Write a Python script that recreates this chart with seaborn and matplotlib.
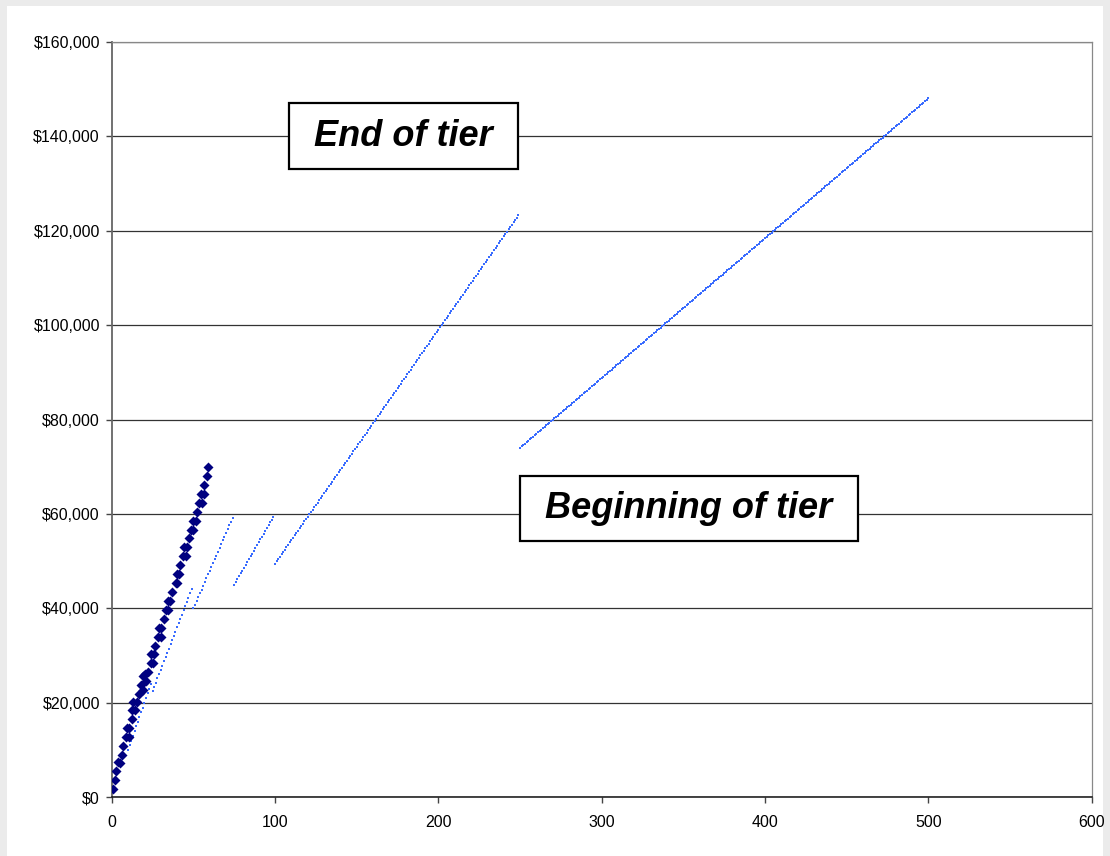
import numpy as np
import pandas as pd
import matplotlib
matplotlib.use("Agg")
import matplotlib.pyplot as plt
from matplotlib.patches import Rectangle
from matplotlib.ticker import FuncFormatter
import seaborn as sns

# Observed cost points (units, total cost)
observed_units = [0.6, 1.8, 2.4, 4.1, 4.9, 6.1, 6.7, 8.8, 10.4, 9.2, 10.8, 12.2,
                  12.6, 14.5, 13.2, 15.3, 16.9, 19.4, 17.7, 21.0, 19.0, 20.6, 22.0,
                  23.9, 25.5, 24.1, 25.7, 26.5, 28.5, 30.2, 28.8, 30.4, 32.0, 33.2,
                  34.7, 34.5, 35.7, 36.9, 39.2, 40.0, 39.8, 41.0, 41.6, 43.9, 45.5,
                  44.3, 45.9, 47.1, 48.3, 50.0, 50.0, 51.6, 52.0, 53.4, 55.1, 54.7,
                  56.5, 56.7, 58.1, 58.8]
observed_cost = [1830, 3730, 5640, 7550, 7190, 8960, 10860, 12770, 12770, 14680,
                 14680, 16510, 18420, 18420, 20250, 20250, 21940, 22790, 23780,
                 24700, 25620, 26040, 26460, 28370, 28370, 30270, 30270, 32110,
                 34010, 34010, 35920, 35920, 37760, 39660, 39660, 41570, 41570,
                 43470, 45380, 45380, 47220, 47220, 49120, 51100, 51100, 52930,
                 52930, 54840, 56670, 56670, 58580, 58580, 60480, 62390, 62390,
                 64300, 64300, 66130, 68040, 70010]

# Tiered pricing: first unit, last unit and price per unit of each tier
tier_first = [10, 25, 50, 75, 100, 250]
tier_last = [24, 49, 74, 99, 249, 500]
tier_price = [1000, 900, 800, 600, 495, 296]

y_ticks = [0, 20000, 40000, 60000, 80000, 100000, 120000, 140000, 160000]
x_ticks = [0, 100, 200, 300, 400, 500, 600]

observed = pd.DataFrame({"units": observed_units, "cost": observed_cost})
tier_units = np.concatenate([np.arange(a, b + 1) for a, b in zip(tier_first, tier_last)])
tier_unit_price = np.concatenate([np.full(b - a + 1, p)
                                  for a, b, p in zip(tier_first, tier_last, tier_price)])
tiers = pd.DataFrame({"units": tier_units, "cost": tier_units * tier_unit_price})

sns.set_style("white")
plt.rcParams["font.family"] = ["Liberation Sans", "DejaVu Sans"]
plt.rcParams["text.color"] = "black"
plt.rcParams["xtick.color"] = "black"
plt.rcParams["ytick.color"] = "black"

fig = plt.figure(figsize=(11.10, 8.56), dpi=100, facecolor="#ebebeb")
W, H = 1110, 856
panel = Rectangle((7 / W, 0), (1103 - 7) / W, (H - 6) / H,
                  transform=fig.transFigure, facecolor="white",
                  edgecolor="none", zorder=-10)
fig.patches.append(panel)

ax = fig.add_axes([111.7 / W, 1 - 797.3 / H, (1091.7 - 111.7) / W, (797.3 - 41.7) / H])
ax.set_zorder(1)
ax.set_facecolor("white")

sns.scatterplot(data=tiers, x="units", y="cost", ax=ax, marker="s", s=3.5,
                color="#3a6cff", linewidth=0, zorder=3)
sns.scatterplot(data=observed, x="units", y="cost", ax=ax, marker="D", s=26,
                color="#000080", linewidth=0, zorder=4)

ax.set_xlim(0, 600)
ax.set_ylim(0, 160000)
ax.set_xticks(x_ticks)
ax.set_yticks(y_ticks)
ax.yaxis.set_major_formatter(FuncFormatter(lambda v, _: f"${v:,.0f}"))
ax.set_xlabel("")
ax.set_ylabel("")

ax.grid(axis="y", color="#333333", linewidth=0.9, zorder=1)
ax.grid(axis="x", visible=False)
ax.set_axisbelow(True)

for side in ["top", "right"]:
    ax.spines[side].set_color("#888888")
    ax.spines[side].set_linewidth(0.9)
ax.spines["left"].set_color("#666666")
ax.spines["left"].set_linewidth(1.3)
ax.spines["bottom"].set_color("#111111")
ax.spines["bottom"].set_linewidth(1.1)

ax.tick_params(axis="y", direction="out", length=4.5, width=1.0, color="#444444",
               labelcolor="black", labelsize=11.5, pad=4, left=True)
ax.tick_params(axis="x", direction="out", length=4.0, width=1.0, color="#444444",
               labelcolor="black", labelsize=11.5, pad=9, bottom=True)

box = dict(boxstyle="square,pad=0.42", facecolor="white", edgecolor="black", linewidth=1.6)
ax.text(178.7, 140000, " End of tier ", fontsize=26, fontweight="bold", fontstyle="italic",
        color="black", ha="center", va="center", bbox=box, zorder=6)
ax.text(353.4, 61100, " Beginning of tier ", fontsize=26, fontweight="bold",
        fontstyle="italic", color="black", ha="center", va="center", bbox=box, zorder=6)

fig.savefig("out.png", dpi=100, facecolor=fig.get_facecolor())
